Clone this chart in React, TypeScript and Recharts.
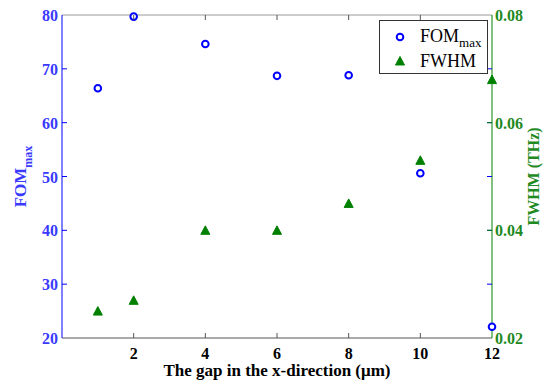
import {
  ScatterChart,
  Scatter,
  XAxis,
  YAxis,
  Legend,
  ReferenceLine,
  Label,
} from "recharts";

// gap in x-direction (um)
const gapUm = [1, 2, 4, 6, 8, 10, 12];
// FOM max (left axis)
const fomMax = [66.4, 79.7, 74.6, 68.7, 68.8, 50.6, 22.1];
// FWHM in THz (right axis)
const fwhmTHz = [0.025, 0.027, 0.04, 0.04, 0.045, 0.053, 0.068];

const xTicks = [2, 4, 6, 8, 10, 12];
const leftTicks = [20, 30, 40, 50, 60, 70, 80];
const rightTicks = [0.02, 0.04, 0.06, 0.08];

const fomData = gapUm.map((x, i) => ({ x, fom: fomMax[i] }));
const fwhmData = gapUm.map((x, i) => ({ x, fwhm: fwhmTHz[i] }));

const W = 550;
const H = 381;
const LEFT_W = 62;
const RIGHT_W = 58;
const TOP = 15;
const BOTTOM_H = 43;
const PL = LEFT_W;
const PR = W - RIGHT_W;
const PT = TOP;
const PB = H - BOTTOM_H;

const FONT = "Liberation Serif";
const BLUE = "#0000ff";
const BLUE_TXT = "#3a3aff";
const GREEN = "#008000";
const GREEN_TXT = "#1f8a1f";

const LeftTick = ({ y, payload }: any) => {
  const v = payload.value;
  const inner = v !== 20 && v !== 80;
  return (
    <g>
      <text x={PL - 4} y={y} dy={6} textAnchor="end" fill={BLUE_TXT}
        fontFamily={FONT} fontWeight="bold" fontSize={16}>{v}</text>
      {inner && <line x1={PL} x2={PL + 5} y1={y} y2={y} stroke={BLUE} />}
      {inner && <line x1={PR - 5} x2={PR} y1={y} y2={y} stroke={BLUE} />}
    </g>
  );
};

const RightTick = ({ y, payload }: any) => {
  const v = payload.value;
  const inner = v !== 0.02 && v !== 0.08;
  return (
    <g>
      <text x={PR + 3} y={y} dy={6} textAnchor="start" fill={GREEN_TXT}
        fontFamily={FONT} fontWeight="bold" fontSize={16}>{v.toFixed(2)}</text>
      {inner && <line x1={PR - 5} x2={PR} y1={y} y2={y} stroke={GREEN} />}
    </g>
  );
};

const BottomTick = ({ x, payload }: any) => {
  const v = payload.value;
  const inner = v !== 12;
  return (
    <g>
      <text x={x} y={PB + 21} textAnchor="middle" fill="#000"
        fontFamily={FONT} fontWeight="bold" fontSize={16}>{v}</text>
      {inner && <line x1={x} x2={x} y1={PB} y2={PB - 5} stroke="#555" />}
      {inner && <line x1={x} x2={x} y1={PT} y2={PT + 5} stroke="#555" />}
    </g>
  );
};

const Circle = ({ cx, cy }: any) => (
  <circle cx={cx} cy={cy} r={3.3} fill="#fff" stroke={BLUE} strokeWidth={2} />
);

const Triangle = ({ cx, cy }: any) => (
  <polygon
    points={`${cx - 4.5},${cy + 4} ${cx + 4.5},${cy + 4} ${cx},${cy - 4.5}`}
    fill={GREEN}
    stroke={GREEN}
    strokeLinejoin="round"
  />
);

const LegendBox = () => (
  <div
    style={{
      width: 107,
      height: 52,
      border: "1px solid #333",
      background: "#fff",
      position: "relative",
    }}
  >
    <svg width={107} height={52} style={{ position: "absolute", left: 0, top: 0 }}>
      <circle cx={20} cy={16} r={3.3} fill="#fff" stroke={BLUE} strokeWidth={2} />
      <polygon points="15.5,44 24.5,44 20,35.5" fill={GREEN} stroke={GREEN} strokeLinejoin="round" />
      <text x={40} y={21} fontFamily={FONT} fontSize={18} fill="#000">
        FOM
        <tspan dy={5} fontSize={13}>max</tspan>
      </text>
      <text x={40} y={46} fontFamily={FONT} fontSize={18} fill="#000">FWHM</text>
    </svg>
  </div>
);

const App = () => {
  return (
    <div style={{ position: "absolute", left: 0, top: 0, width: W, height: H, background: "#fff" }}>
      <ScatterChart width={W} height={H} margin={{ top: TOP, right: 0, bottom: 0, left: 0 }}>
        <XAxis
          type="number"
          dataKey="x"
          domain={[0, 12]}
          ticks={xTicks}
          height={BOTTOM_H}
          stroke="#555"
          tickLine={false}
          tick={<BottomTick />}
          interval={0}
        >
          <Label
            content={() => (
              <text x={(PL + PR) / 2} y={PB + 38} textAnchor="middle" fill="#000"
                fontFamily={FONT} fontWeight="bold" fontSize={17}>
                The gap in the x-direction (μm)
              </text>
            )}
          />
        </XAxis>
        <YAxis
          yAxisId="left"
          type="number"
          dataKey="fom"
          domain={[20, 80]}
          ticks={leftTicks}
          width={LEFT_W}
          stroke={BLUE}
          tickLine={false}
          tick={<LeftTick />}
          interval={0}
        >
          <Label
            content={() => (
              <text
                transform={`translate(26, ${(PT + PB) / 2}) rotate(-90)`}
                textAnchor="middle"
                fill={BLUE_TXT}
                fontFamily={FONT}
                fontWeight="bold"
                fontSize={17}
              >
                FOM
                <tspan dy={6} fontSize={12}>max</tspan>
              </text>
            )}
          />
        </YAxis>
        <YAxis
          yAxisId="right"
          orientation="right"
          type="number"
          dataKey="fwhm"
          domain={[0.02, 0.08]}
          ticks={rightTicks}
          width={RIGHT_W}
          stroke={GREEN}
          tickLine={false}
          tick={<RightTick />}
          interval={0}
        >
          <Label
            content={() => (
              <text
                transform={`translate(539, ${(PT + PB) / 2}) rotate(-90)`}
                textAnchor="middle"
                fill={GREEN_TXT}
                fontFamily={FONT}
                fontWeight="bold"
                fontSize={16}
              >
                FWHM (THz)
              </text>
            )}
          />
        </YAxis>
        <ReferenceLine yAxisId="left" y={80} stroke="#999" />
        <Scatter
          name="FOM max"
          yAxisId="left"
          data={fomData}
          shape={<Circle />}
          isAnimationActive={false}
        />
        <Scatter
          name="FWHM"
          yAxisId="right"
          data={fwhmData}
          shape={<Triangle />}
          isAnimationActive={false}
        />
        <Legend
          layout="horizontal"
          verticalAlign="middle"
          align="center"
          content={() => <LegendBox />}
          wrapperStyle={{ position: "absolute", left: 379, top: 20, width: 109, height: 54 }}
        />
      </ScatterChart>
    </div>
  );
};

export default App;
